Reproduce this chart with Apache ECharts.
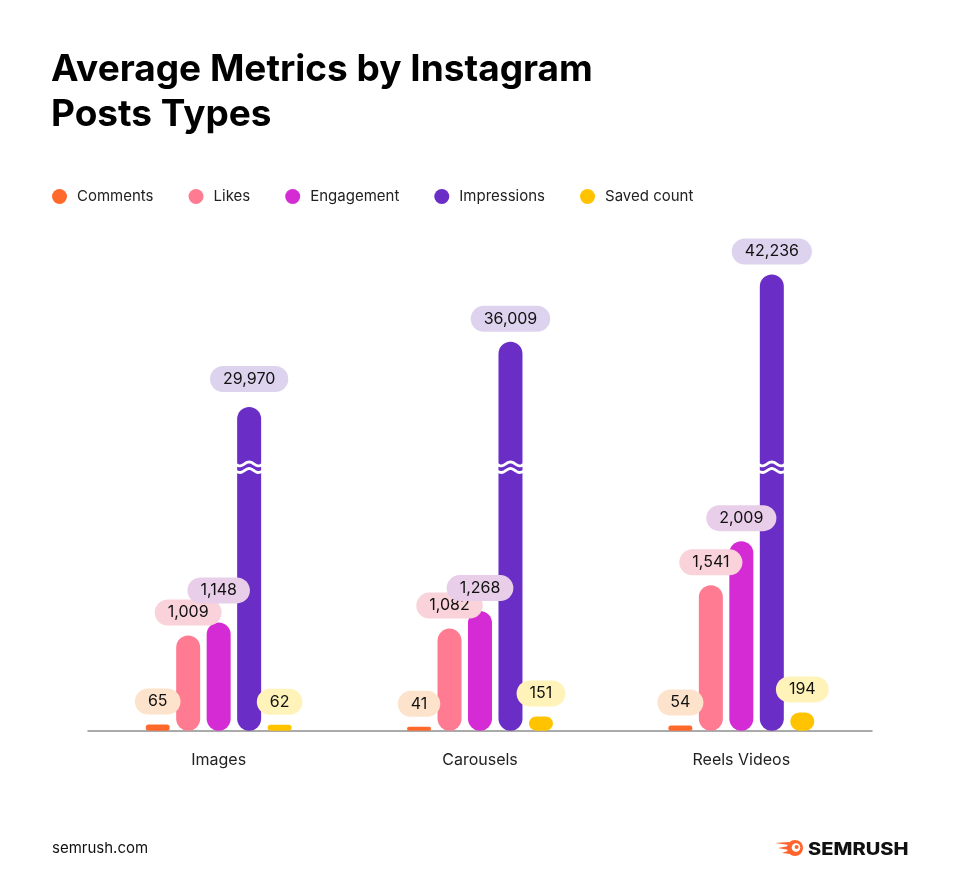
<!DOCTYPE html>
<html lang="en">
<head>
<meta charset="UTF-8">
<title>Average Metrics by Instagram Posts Types</title>
<script src="https://cdn.jsdelivr.net/npm/echarts@6/dist/echarts.min.js"></script>
<style>
  html, body { margin: 0; padding: 0; background: #fff; }
  #chart { width: 960px; height: 874px; }
</style>
</head>
<body>
<div id="chart"></div>
<script>
// values
const categories = ['Images', 'Carousels', 'Reels Videos'];
const comments = [65, 41, 54];
const likes = [1009, 1082, 1541];
const engagement = [1148, 1268, 2009];
const impressions = [29970, 36009, 42236];
const savedCount = [62, 151, 194];
// where the impressions bars are cut (on their own axis)
const breakAt = 24400;

const FONT = 'Inter, "Noto Sans", sans-serif';
const barW = 24;
const gapPct = 27;
const slot = barW * (1 + gapPct / 100);

const fmt = v => Number(v).toLocaleString('en-US');

// one bar series, pill label on top
const bars = (name, data, color, pill, yIdx) => ({
  name,
  type: 'bar',
  data,
  yAxisIndex: yIdx || 0,
  barWidth: barW,
  barGap: gapPct + '%',
  itemStyle: { color, borderRadius: 12 },
  label: {
    show: true,
    position: 'top',
    distance: 10,
    formatter: p => fmt(p.value),
    fontFamily: FONT,
    fontSize: 16,
    color: '#111',
    backgroundColor: pill,
    borderRadius: 14,
    padding: [5, 13, 5, 13]
  }
});

const chart = echarts.init(document.getElementById('chart'));
chart.setOption({
  backgroundColor: '#fff',
  animation: false,
  title: {
    text: 'Average Metrics by Instagram\nPosts Types',
    left: 51,
    top: 47,
    padding: 0,
    textStyle: { fontFamily: FONT, fontSize: 37, fontWeight: 700, color: '#000', lineHeight: 45 }
  },
  legend: {
    data: ['Comments', 'Likes', 'Engagement', 'Impressions', 'Saved count'],
    left: 47,
    top: 184,
    icon: 'circle',
    itemWidth: 15,
    itemHeight: 15,
    itemGap: 35,
    textStyle: { fontFamily: FONT, fontSize: 15, color: '#222', padding: [0, 0, 0, 5] }
  },
  grid: { left: 88, right: 88, top: 230.7, bottom: 143.3, containLabel: false },
  xAxis: {
    type: 'category',
    data: categories,
    axisLine: { lineStyle: { color: '#8f8f8f', width: 1.5 } },
    axisTick: { show: false },
    axisLabel: { fontFamily: FONT, fontSize: 16, color: '#222', margin: 21 }
  },
  yAxis: [
    { type: 'value', min: 0, max: 5300, show: false, splitLine: { show: false } },
    { type: 'value', min: 0, max: 46300, show: false, splitLine: { show: false } }
  ],
  // lift the two labels that sit a little higher in the original
  labelLayout: p => {
    if (p.seriesIndex === 2 && p.dataIndex === 0) return { dy: -9 };
    if (p.seriesIndex === 3 && p.dataIndex === 0) return { dy: -5 };
    return {};
  },
  series: [
    bars('Comments', comments, '#FF6A2C', '#FDE2CC'),
    bars('Likes', likes, '#FF7B91', '#F9D2DA'),
    bars('Engagement', engagement, '#D52BD4', '#E9CEE9'),
    bars('Impressions', impressions, '#6A2EC6', '#DED3EE', 1),
    bars('Saved count', savedCount, '#FFC300', '#FFF3BA'),
    {
      // the wavy cut across the impressions bars
      name: 'break',
      type: 'custom',
      yAxisIndex: 1,
      silent: true,
      z: 5,
      data: categories.map((c, i) => [i, breakAt]),
      renderItem: (params, api) => {
        const p = api.coord([api.value(0), api.value(1)]);
        const cx = p[0] + slot;
        const wave = dy => {
          const pts = [];
          for (let i = 0; i <= 28; i++) {
            pts.push([cx - 14 + i, p[1] + dy + 2 * Math.sin(i / 28 * Math.PI * 3)]);
          }
          return { type: 'polyline', shape: { points: pts }, style: { stroke: '#fff', lineWidth: 2.8, fill: null } };
        };
        return { type: 'group', children: [wave(-3.3), wave(3.3)] };
      }
    }
  ],
  graphic: [
    {
      type: 'text', left: 52, top: 841,
      style: { text: 'semrush.com', fontFamily: FONT, fontSize: 15, fill: '#111' }
    },
    {
      type: 'group', left: 775, top: 840,
      children: [
        { type: 'polygon', shape: { points: [[0, 4], [14, 3], [14, 6]] }, style: { fill: '#FF642D' } },
        { type: 'polygon', shape: { points: [[3, 9], [14, 7], [14, 11]] }, style: { fill: '#FF642D' } },
        { type: 'polygon', shape: { points: [[7, 14], [15, 11], [15, 15]] }, style: { fill: '#FF642D' } },
        { type: 'circle', shape: { cx: 20, cy: 9, r: 8 }, style: { fill: '#FF642D' } },
        { type: 'circle', shape: { cx: 21, cy: 8.5, r: 4.3 }, style: { fill: '#fff' } },
        { type: 'circle', shape: { cx: 21.6, cy: 8, r: 2 }, style: { fill: '#FF642D' } }
      ]
    },
    {
      type: 'text', left: 808, top: 841, scaleX: 1.18,
      style: { text: 'SEMRUSH', fontFamily: FONT, fontSize: 17, fontWeight: 800, fill: '#111' }
    }
  ]
});
</script>
</body>
</html>
